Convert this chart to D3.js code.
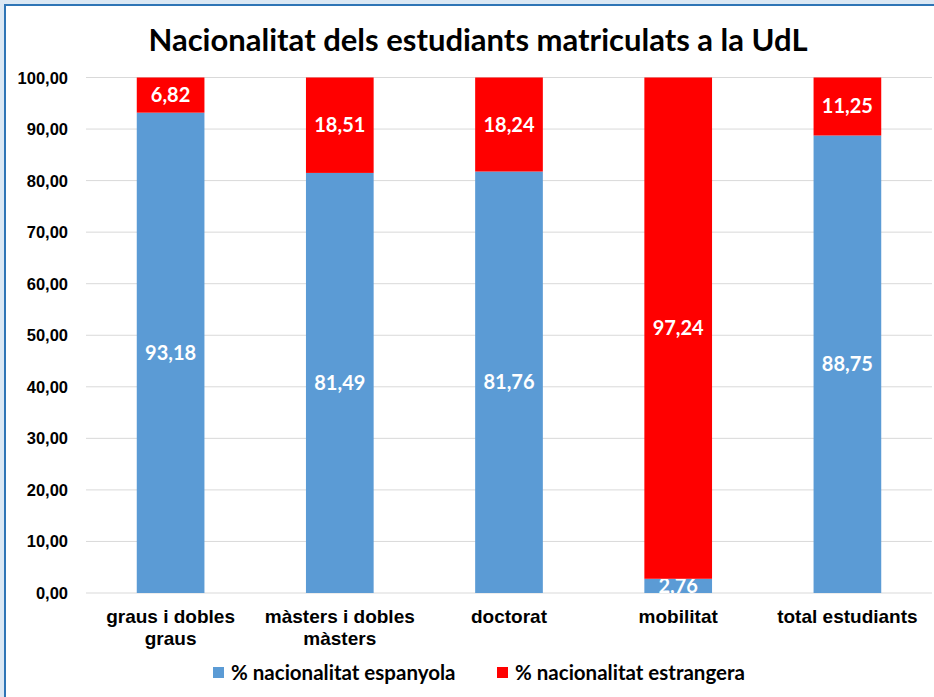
<!DOCTYPE html>
<html>
<head>
<meta charset="utf-8">
<script src="https://cdn.jsdelivr.net/npm/d3@7"></script>
<style>
  body { margin: 0; background: #fff; }
  svg { display: block; }
</style>
</head>
<body>
<div id="chart"></div>
<script>
const categories = [['graus i dobles', 'graus'], ['màsters i dobles', 'màsters'], ['doctorat'], ['mobilitat'], ['total estudiants']];
const espanyola = [93.18, 81.49, 81.76, 2.76, 88.75];
const estrangera = [6.82, 18.51, 18.24, 97.24, 11.25];
const seriesNames = ['% nacionalitat espanyola', '% nacionalitat estrangera'];
const colors = ['#5B9BD5', '#FF0000'];
const yTicks = [0, 10, 20, 30, 40, 50, 60, 70, 80, 90, 100];

const width = 934, height = 697;
const fmt = v => v.toFixed(2).replace('.', ',');

const svg = d3.select('#chart').append('svg')
  .attr('width', width)
  .attr('height', height);

// frame
svg.append('rect').attr('x', 0).attr('y', 0).attr('width', width).attr('height', height).attr('fill', '#dbe8f4');
svg.append('rect').attr('x', 5).attr('y', 5).attr('width', width).attr('height', height).attr('fill', '#fff')
  .attr('stroke', '#2e75b6').attr('stroke-width', 2);

// title
svg.append('text')
  .attr('x', 478).attr('y', 51)
  .attr('text-anchor', 'middle')
  .attr('font-family', 'Lato, "Open Sans", sans-serif')
  .attr('font-weight', 'bold')
  .attr('font-size', 31)
  .attr('fill', '#000')
  .text('Nacionalitat dels estudiants matriculats a la UdL');

const x = d3.scaleBand()
  .domain(d3.range(categories.length))
  .range([86, 932])
  .paddingInner(0.6)
  .paddingOuter(0.3);

const y = d3.scaleLinear().domain([0, 100]).range([593, 77.5]);

// gridlines
svg.append('g')
  .selectAll('line')
  .data(yTicks)
  .join('line')
  .attr('x1', 86).attr('x2', 932)
  .attr('y1', d => y(d)).attr('y2', d => y(d))
  .attr('stroke', '#d9d9d9')
  .attr('stroke-width', 1);

// y tick labels
svg.append('g')
  .selectAll('text')
  .data(yTicks)
  .join('text')
  .attr('x', 68)
  .attr('y', d => y(d) + 6)
  .attr('text-anchor', 'end')
  .attr('font-family', '"Liberation Sans", Arial, sans-serif')
  .attr('font-weight', 'bold')
  .attr('font-size', 16.5)
  .attr('fill', '#000')
  .text(d => fmt(d));

// stacked data
const rows = categories.map((c, i) => ({ i, espanyola: espanyola[i], estrangera: estrangera[i] }));
const stack = d3.stack().keys(['espanyola', 'estrangera'])(rows);

const defs = svg.append('defs');

stack.forEach((layer, li) => {
  const g = svg.append('g');
  g.selectAll('rect')
    .data(layer)
    .join('rect')
    .attr('x', d => x(d.data.i))
    .attr('y', d => y(d[1]))
    .attr('width', x.bandwidth())
    .attr('height', d => y(d[0]) - y(d[1]))
    .attr('fill', colors[li]);

  layer.forEach(d => {
    const id = 'clip-' + li + '-' + d.data.i;
    defs.append('clipPath').attr('id', id)
      .append('rect')
      .attr('x', x(d.data.i))
      .attr('y', y(d[1]))
      .attr('width', x.bandwidth())
      .attr('height', y(d[0]) - y(d[1]));
    g.append('text')
      .attr('clip-path', `url(#${id})`)
      .attr('x', x(d.data.i) + x.bandwidth() / 2)
      .attr('y', (y(d[0]) + y(d[1])) / 2 + 7)
      .attr('text-anchor', 'middle')
      .attr('font-family', 'Lato, "Open Sans", sans-serif')
      .attr('font-weight', 'bold')
      .attr('font-size', 20)
      .attr('fill', '#fff')
      .text(fmt(d.data[layer.key]));
  });
});

// category labels
const cat = svg.append('g')
  .selectAll('text')
  .data(categories)
  .join('text')
  .attr('x', (d, i) => x(i) + x.bandwidth() / 2)
  .attr('y', 623)
  .attr('text-anchor', 'middle')
  .attr('font-family', '"Liberation Sans", Arial, sans-serif')
  .attr('font-weight', 'bold')
  .attr('font-size', 19)
  .attr('fill', '#000');
cat.selectAll('tspan')
  .data(d => d)
  .join('tspan')
  .attr('x', function () { return d3.select(this.parentNode).attr('x'); })
  .attr('dy', (d, i) => i === 0 ? 0 : 22)
  .text(d => d);

// legend
const legendX = [213, 497];
const legend = svg.append('g');
seriesNames.forEach((name, i) => {
  legend.append('rect')
    .attr('x', legendX[i]).attr('y', 667)
    .attr('width', 11).attr('height', 11)
    .attr('fill', colors[i]);
  legend.append('text')
    .attr('x', legendX[i] + 18).attr('y', 680)
    .attr('font-family', 'Lato, "Open Sans", sans-serif')
    .attr('font-weight', 'bold')
    .attr('font-size', 20.5)
    .attr('fill', '#000')
    .text(name);
});
</script>
</body>
</html>
